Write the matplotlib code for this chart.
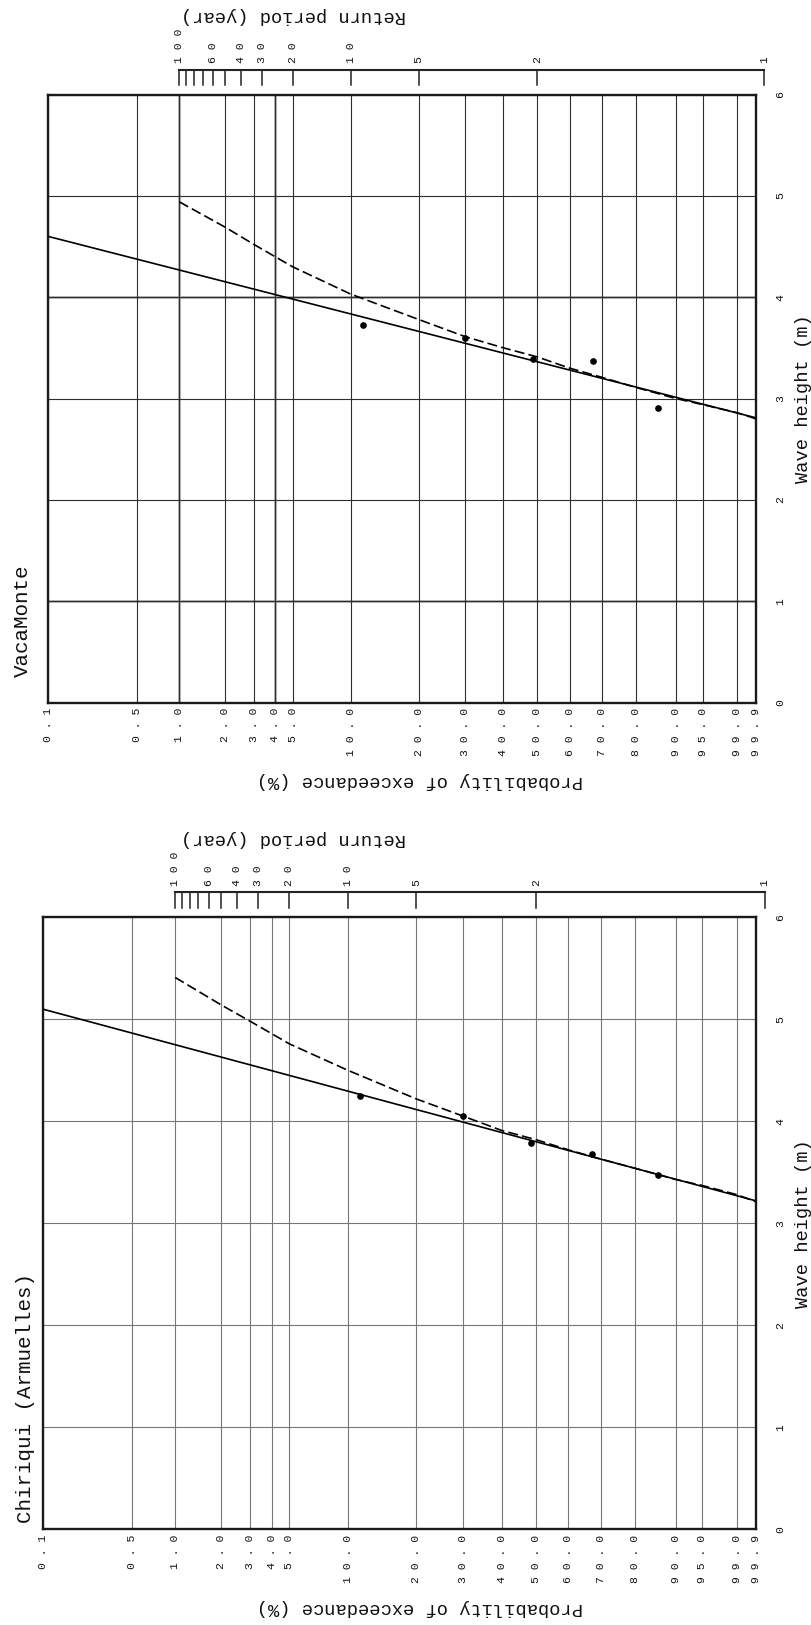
import numpy as np
import matplotlib
matplotlib.use('Agg')
import matplotlib.pyplot as plt
from matplotlib.transforms import blended_transform_factory

plt.rcParams['font.family'] = ['Liberation Mono', 'DejaVu Sans Mono']

# probability of exceedance axis (%), Weibull k=2 paper
prob_ticks = [0.1, 0.5, 1, 2, 3, 4, 5, 10, 20, 30, 40, 50, 60, 70, 80, 90, 95, 99, 99.9]
prob_labels = ['0.1', '0.5', '1.0', '2.0', '3.0', '4.0', '5.0', '10.0', '20.0', '30.0',
               '40.0', '50.0', '60.0', '70.0', '80.0', '90.0', '95.0', '99.0', '99.9']
height_ticks = [0, 1, 2, 3, 4, 5, 6]

# return period axis (years)
return_ticks = [100, 90, 80, 70, 60, 50, 40, 30, 20, 10, 5, 2, 1]
return_labels = ['100', '', '', '', '60', '', '40', '30', '20', '10', '5', '2', '1']

# VacaMonte
vaca_obs_p = [11.4, 30.0, 48.6, 67.3, 85.9]
vaca_obs_h = [3.73, 3.60, 3.39, 3.37, 2.91]
vaca_fit_p = [0.1, 99.9]
vaca_fit_h = [4.60, 2.81]
vaca_alt_p = [1, 2, 3, 5, 10, 20, 30, 40, 50, 60, 70, 80, 90, 95, 99, 99.9]
vaca_alt_h = [4.94, 4.69, 4.52, 4.30, 4.03, 3.78, 3.61, 3.50, 3.41, 3.30, 3.21, 3.11,
              3.00, 2.94, 2.86, 2.80]

# Chiriqui (Armuelles)
chiri_obs_p = [11.4, 30.0, 48.6, 67.3, 85.9]
chiri_obs_h = [4.25, 4.05, 3.79, 3.68, 3.47]
chiri_fit_p = [0.1, 99.9]
chiri_fit_h = [5.10, 3.22]
chiri_alt_p = [1, 2, 3, 5, 10, 20, 30, 40, 50, 60, 70, 80, 90, 95, 99, 99.9]
chiri_alt_h = [5.41, 5.14, 4.98, 4.76, 4.50, 4.22, 4.05, 3.91, 3.82, 3.72, 3.63, 3.54,
               3.43, 3.37, 3.28, 3.21]

W, H = 811, 1625


def u(p):
    p = np.asarray(p, dtype=float)
    return -np.sqrt(-np.log(p / 100.0))


def spaced(s):
    return ' '.join(s)


def panel(rect, title, obs_p, obs_h, fit_p, fit_h, alt_p, alt_h,
          gcol, gray_p, gray_h, title_xy):
    l, t, r, b = rect
    ax = fig.add_axes([l / W, 1 - b / H, (r - l) / W, (b - t) / H])
    ah = b - t
    ax.set_xlim(u(0.1), u(99.9))
    ax.set_ylim(0, 6)
    ax.set_xticks(u(prob_ticks), [spaced(s) for s in prob_labels])
    ax.set_yticks(height_ticks, [str(v) for v in height_ticks])
    ax.tick_params(length=0, labelsize=8.2, colors='#111')
    ax.tick_params(axis='x', labelrotation=90, pad=4)
    ax.tick_params(axis='y', labelleft=False, labelright=True, labelrotation=90, pad=14)
    for lab in ax.get_yticklabels():
        lab.set_va('center')
    ax.grid(True, color=gcol, lw=0.8)
    for p in gray_p:
        ax.axvline(u(p), color='#b0b0b0', lw=2.0, zorder=1.5)
    for h in gray_h:
        ax.axhline(h, color='#b0b0b0', lw=2.0, zorder=1.5)
    for s in ax.spines.values():
        s.set_linewidth(1.7)
        s.set_color('#1a1a1a')

    ax.plot(u(fit_p), fit_h, color='#000', lw=1.2, zorder=3)
    ax.plot(u(alt_p), alt_h, color='#000', lw=1.2, dashes=(6, 2.5), zorder=3)
    ax.plot(u(obs_p), obs_h, 'o', color='#000', ms=3.8, zorder=4)

    # return period scale above the frame
    tr = blended_transform_factory(ax.transData, ax.transAxes)
    y_line = 1 + 25.0 / ah
    y_tick = 1 + 9.5 / ah
    y_lab = 1 + 31.5 / ah
    rp = u(100.0 / np.array(return_ticks, dtype=float))
    ax.plot([rp[0], rp[-1]], [y_line, y_line], transform=tr, clip_on=False,
            color='#222', lw=1.5)
    for x, lab in zip(rp, return_labels):
        ax.plot([x, x], [y_line, y_tick], transform=tr, clip_on=False,
                color='#222', lw=1.1)
        if lab:
            ax.text(x, y_lab, spaced(lab), transform=tr, rotation=90,
                    ha='center', va='bottom', fontsize=8.2, color='#111')

    fig.text(293 / W, 1 - (t - 79) / H, 'Return period (year)', rotation=180,
             ha='center', va='center', fontsize=13.5, color='#111')
    fig.text(420 / W, 1 - (b + 78) / H, 'Probability of exceedance (%)', rotation=180,
             ha='center', va='center', fontsize=13.5, color='#111')
    fig.text(803 / W, 1 - (t + b) / 2 / H, 'Wave height (m)', rotation=90,
             ha='center', va='center', fontsize=13.5, color='#111')
    fig.text(title_xy[0] / W, 1 - title_xy[1] / H, title, rotation=90,
             ha='center', va='bottom', fontsize=15, color='#111')
    return ax


fig = plt.figure(figsize=(W / 100, H / 100), dpi=100)

panel((48, 94.5, 755.7, 702.5), 'VacaMonte',
      vaca_obs_p, vaca_obs_h, vaca_fit_p, vaca_fit_h, vaca_alt_p, vaca_alt_h,
      '#2e2e2e', [1, 4], [1, 4], (22.5, 677))
panel((42.7, 917.3, 756, 1529.3), 'Chiriqui (Armuelles)',
      chiri_obs_p, chiri_obs_h, chiri_fit_p, chiri_fit_h, chiri_alt_p, chiri_alt_h,
      '#777777', [], [], (25.8, 1523))

fig.savefig('out.png', dpi=100)
